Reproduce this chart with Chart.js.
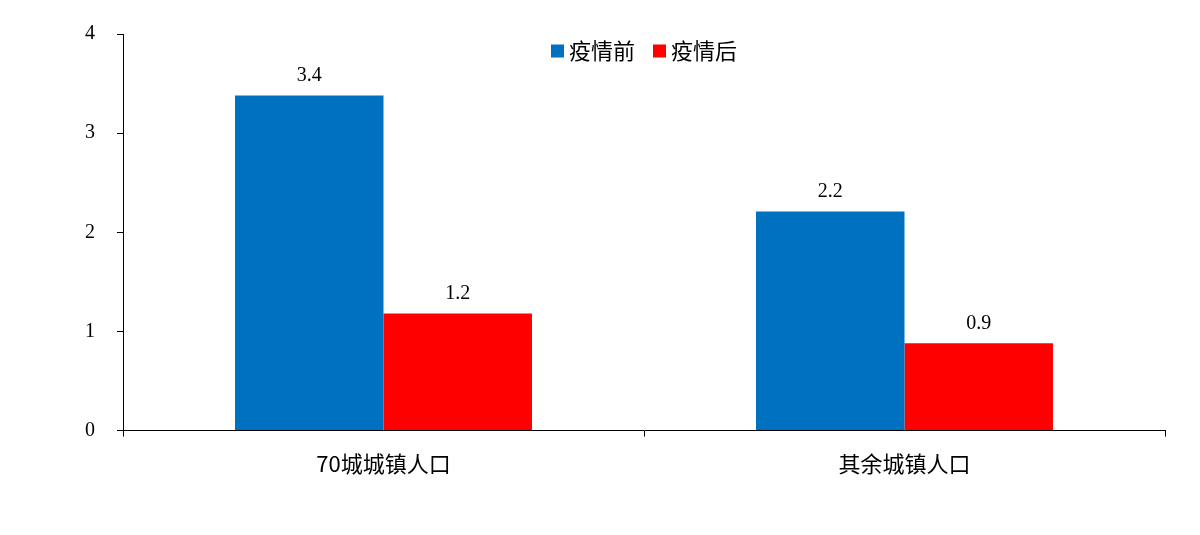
<!DOCTYPE html><html><head><meta charset="utf-8">
<script src="https://cdn.jsdelivr.net/npm/chart.js@4/dist/chart.umd.min.js"></script>
<style>html,body{margin:0;background:#fff}#w{width:1200px;height:535px}</style></head><body>
<div id="w"><canvas id="c"></canvas></div>
<script>
const categories = ['70城城镇人口', '其余城镇人口'];
const seriesNames = ['疫情前', '疫情后'];
const before = [3.38, 2.21];
const after = [1.18, 0.88];
const dataLabels = [['3.4', '2.2'], ['1.2', '0.9']];
const yTicks = [0, 1, 2, 3, 4];

const labelPlugin = {
  id: 'lbl',
  afterDatasetsDraw(chart) {
    const ctx = chart.ctx;
    ctx.save();
    ctx.font = '20px "Liberation Serif"';
    ctx.fillStyle = '#000';
    ctx.textAlign = 'center';
    ctx.textBaseline = 'bottom';
    chart.data.datasets.forEach((ds, i) => {
      chart.getDatasetMeta(i).data.forEach((bar, j) => {
        ctx.fillText(dataLabels[i][j], bar.x, bar.y - 10);
      });
    });
    // legend inside plot, centered at top
    ctx.font = '22px "Noto Sans CJK SC"';
    ctx.textAlign = 'left';
    ctx.textBaseline = 'middle';
    const items = chart.data.datasets.map(d => ({ t: d.label, c: d.backgroundColor }));
    const box = 13, gap = 5, sep = 18;
    const widths = items.map(it => box + gap + ctx.measureText(it.t).width);
    const total = widths.reduce((a, b) => a + b, 0) + sep * (items.length - 1);
    let x = (chart.chartArea.left + chart.chartArea.right) / 2 - total / 2;
    const y = chart.chartArea.top + 17;
    items.forEach((it, k) => {
      ctx.fillStyle = it.c;
      ctx.fillRect(x, y - box / 2, box, box);
      ctx.fillStyle = '#000';
      ctx.fillText(it.t, x + box + gap, y);
      x += widths[k] + sep;
    });
    ctx.restore();
  }
};

new Chart(document.getElementById('c'), {
  type: 'bar',
  data: {
    labels: categories,
    datasets: [
      { label: seriesNames[0], data: before, backgroundColor: '#0070C0' },
      { label: seriesNames[1], data: after, backgroundColor: '#FF0000' }
    ]
  },
  options: {
    responsive: true, maintainAspectRatio: false, animation: false,
    layout: { padding: { left: 63, right: 35, top: 0, bottom: 44 } },
    datasets: { bar: { barPercentage: 1, categoryPercentage: 0.57 } },
    plugins: { tooltip: { enabled: false }, legend: { display: false } },
    scales: {
      x: {
        border: { color: '#000' },
        grid: { drawOnChartArea: false, color: '#000', tickLength: 6, offset: true },
        ticks: { color: '#000', padding: 14, font: { family: '"Noto Sans CJK SC"', size: 22 } }
      },
      y: {
        min: 0, max: 4,
        afterBuildTicks: ax => { ax.ticks = yTicks.map(v => ({ value: v })); },
        border: { color: '#000' },
        grid: { drawOnChartArea: false, color: '#000', tickLength: 6 },
        ticks: { color: '#000', padding: 22, font: { family: '"Liberation Serif"', size: 20 } }
      }
    }
  },
  plugins: [labelPlugin]
});
</script></body></html>
